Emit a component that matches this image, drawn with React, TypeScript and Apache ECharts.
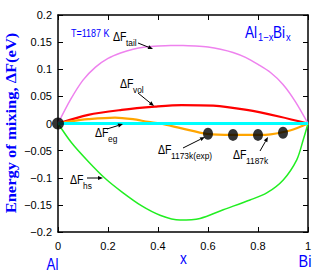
import React, { useEffect, useRef } from "react";
import * as echarts from "echarts";

// ---- data ----
const tailX = [0, 0.05, 0.1, 0.15, 0.2, 0.25, 0.3, 0.35, 0.4, 0.45, 0.5, 0.55, 0.6, 0.65, 0.7, 0.75, 0.8, 0.85, 0.9, 0.95, 1];
const tailY = [0, 0.044, 0.08, 0.104, 0.12, 0.13, 0.137, 0.141, 0.143, 0.144, 0.144, 0.143, 0.141, 0.137, 0.131, 0.122, 0.109, 0.094, 0.072, 0.04, 0];

const volX = [0, 0.121, 0.255, 0.388, 0.495, 0.621, 0.755, 0.888, 1];
const volY = [0, 0.016, 0.025, 0.031, 0.034, 0.033, 0.025, 0.0125, 0];

const egX = [0, 0.05, 0.121, 0.228, 0.3, 0.361, 0.408, 0.495, 0.595, 0.7, 0.8, 0.85, 0.928, 1];
const egY = [0, 0.004, 0.008, 0.011, 0.008, 0.003, 0, -0.009, -0.019, -0.021, -0.021, -0.02, -0.013, 0];

const hsX = [0, 0.055, 0.121, 0.188, 0.255, 0.335, 0.408, 0.488, 0.568, 0.661, 0.768, 0.835, 0.901, 0.955, 0.981, 1];
const hsY = [0, -0.036, -0.07, -0.101, -0.126, -0.152, -0.169, -0.178, -0.175, -0.159, -0.141, -0.128, -0.104, -0.067, -0.03, 0];

const refX = [0, 1];
const refY = [0, 0];

const expX = [0.6, 0.7, 0.8, 0.9];
const expY = [-0.019, -0.021, -0.021, -0.017];

const originX = [0];
const originY = [0];

const pairs = (xs: number[], ys: number[]) => xs.map((x, i) => [x, ys[i]]);

const SANS = "Liberation Sans, Arial, Helvetica, sans-serif";
const BLUE = "#0000ff";

function txt(x: number, y: number, text: string, fontSize: number, fill = "#000", extra: any = {}) {
  return {
    type: "text",
    x,
    y,
    scaleX: extra.scaleX ?? 0.88,
    rotation: extra.rotation ?? 0,
    z: 100,
    style: {
      text,
      fontSize,
      fontFamily: extra.fontFamily ?? SANS,
      fontWeight: extra.fontWeight ?? "normal",
      fill,
      align: extra.align ?? "left",
      textAlign: extra.align ?? "left",
      verticalAlign: extra.verticalAlign ?? "top",
      textVerticalAlign: extra.verticalAlign ?? "top",
    },
  };
}

function arrow(x1: number, y1: number, x2: number, y2: number) {
  const dx = x2 - x1;
  const dy = y2 - y1;
  const len = Math.sqrt(dx * dx + dy * dy);
  const ux = dx / len;
  const uy = dy / len;
  const hl = 5;
  const hw = 2;
  const bx = x2 - ux * hl;
  const by = y2 - uy * hl;
  return [
    { type: "line", z: 100, shape: { x1, y1, x2: bx, y2: by }, style: { stroke: "#000", lineWidth: 1 } },
    {
      type: "polygon",
      z: 100,
      shape: { points: [[x2, y2], [bx - uy * hw, by + ux * hw], [bx + uy * hw, by - ux * hw]] },
      style: { fill: "#000" },
    },
  ];
}

function label(x: number, y: number, sub: string) {
  return [txt(x, y, "ΔF", 12), txt(x + 13, y + 7, sub, 9.5)];
}

export default function App() {
  const ref = useRef<HTMLDivElement>(null);
  useEffect(() => {
    if (!ref.current) return;
    const chart = echarts.init(ref.current, null, { renderer: "svg" });
    const fmtY = (v: number) => {
      const r = parseFloat(v.toFixed(2));
      return r < 0 ? "\u2212" + Math.abs(r) : String(r);
    };
    const line = (name: string, data: number[][], color: string, width: number, z: number) => ({
      name,
      type: "line",
      data,
      smooth: 0.3,
      showSymbol: false,
      symbol: "none",
      lineStyle: { color, width },
      z,
    });
    const axisLine = { show: true, onZero: false, lineStyle: { color: "#000", width: 1.5 } };
    const axisTick = { show: true, inside: true, length: 5, lineStyle: { color: "#000", width: 1 } };
    chart.setOption({
      animation: false,
      grid: { left: 58, right: 19, top: 15, bottom: 41 },
      xAxis: [
        {
          type: "value",
          min: 0,
          max: 1,
          interval: 0.2,
          axisLine,
          axisTick,
          axisLabel: { fontSize: 11, fontFamily: SANS, color: "#000", margin: 8 },
          splitLine: { show: false },
        },
        {
          type: "value",
          position: "top",
          min: 0,
          max: 1,
          interval: 0.2,
          axisLine,
          axisTick,
          axisLabel: { show: false },
          splitLine: { show: false },
        },
      ],
      yAxis: [
        {
          type: "value",
          min: -0.2,
          max: 0.2,
          interval: 0.05,
          axisLine,
          axisTick,
          axisLabel: { fontSize: 11, fontFamily: SANS, color: "#000", margin: 6, formatter: fmtY },
          splitLine: { show: false },
        },
        {
          type: "value",
          position: "right",
          min: -0.2,
          max: 0.2,
          interval: 0.05,
          axisLine,
          axisTick,
          axisLabel: { show: false },
          splitLine: { show: false },
        },
      ],
      series: [
        line("tail", pairs(tailX, tailY), "#ee82ee", 1.5, 2),
        line("hs", pairs(hsX, hsY), "#22ee22", 1.5, 3),
        line("vol", pairs(volX, volY), "#ff0000", 2.2, 4),
        line("eg", pairs(egX, egY), "#ffa500", 2.2, 5),
        { ...line("ref", pairs(refX, refY), "#00ffff", 3, 6), smooth: false },
        {
          name: "exp",
          type: "scatter",
          data: pairs(expX, expY),
          symbol: "circle",
          symbolSize: [10, 12],
          itemStyle: { color: "#000" },
          z: 10,
        },
        {
          name: "origin",
          type: "scatter",
          data: pairs(originX, originY),
          symbol: "circle",
          symbolSize: 12,
          clip: false,
          itemStyle: { color: "#000" },
          z: 10,
        },
      ],
      graphic: [
        txt(10.5, 123, "Energy of mixing, ΔF(eV)", 15, BLUE, {
          rotation: Math.PI / 2,
          scaleX: 1.1,
          align: "center",
          verticalAlign: "middle",
          fontFamily: "Liberation Serif, Times New Roman, serif",
          fontWeight: "bold",
        }),
        txt(52.5, 263.5, "Al", 17, BLUE, { align: "center", verticalAlign: "middle", scaleX: 0.78 }),
        txt(183.5, 259, "x", 16, BLUE, { align: "center", verticalAlign: "middle", scaleX: 0.85 }),
        txt(305, 261.5, "Bi", 17, BLUE, { align: "center", verticalAlign: "middle", scaleX: 0.85 }),
        txt(71, 28, "T=1187 K", 10, BLUE, { scaleX: 0.9 }),
        txt(245, 25, "Al", 16, BLUE, { scaleX: 0.85 }),
        txt(258, 32, "1\u2212x", 11, BLUE, { scaleX: 0.85 }),
        txt(273, 25, "Bi", 16, BLUE, { scaleX: 0.85 }),
        txt(286, 32, "x", 11, BLUE, { scaleX: 0.85 }),
        ...label(113, 31, "tail"),
        ...arrow(138, 43, 153, 49),
        ...label(120, 78, "vol"),
        ...arrow(138, 93, 154, 106),
        ...label(95, 127, "eg"),
        ...arrow(107, 129, 123, 124),
        ...label(70, 174, "hs"),
        ...arrow(87, 178, 103, 178),
        ...label(158, 144, "1173k(exp)"),
        ...arrow(183, 148, 205, 137),
        ...label(233, 149, "1187k"),
        ...arrow(260, 151, 268, 137),
      ],
    });
    return () => chart.dispose();
  }, []);
  return (
    <div
      ref={ref}
      style={{ position: "fixed", left: 0, top: 0, width: 327, height: 273, background: "#fff" }}
    />
  );
}
